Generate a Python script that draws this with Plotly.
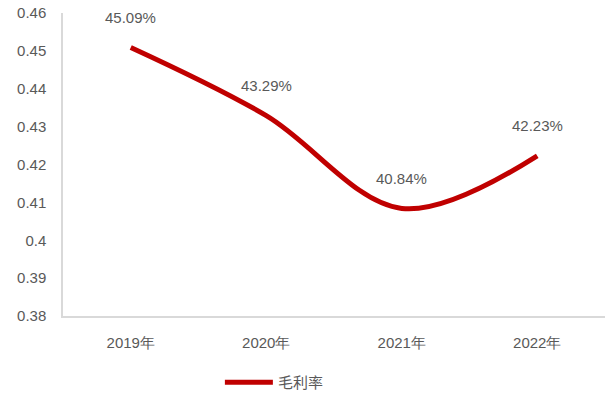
import plotly.graph_objects as go

years = ["2019年", "2020年", "2021年", "2022年"]
gross_margin = [0.4509, 0.4329, 0.4084, 0.4223]
labels = ["45.09%", "43.29%", "40.84%", "42.23%"]
y_ticks = [0.38, 0.39, 0.40, 0.41, 0.42, 0.43, 0.44, 0.45, 0.46]
y_tick_text = ["0.38", "0.39", "0.4", "0.41", "0.42", "0.43", "0.44", "0.45", "0.46"]

fig = go.Figure()
fig.add_trace(go.Scatter(
    x=years, y=gross_margin, mode="lines", name="毛利率",
    line=dict(color="#C00000", width=5, shape="spline", smoothing=1.0),
))

for x, y, t in zip(years, gross_margin, labels):
    fig.add_annotation(x=x, y=y, text=t, showarrow=False, yshift=30,
                       font=dict(family="Liberation Sans, Arial", size=15, color="#595959"))

fig.update_layout(
    width=605, height=399,
    margin=dict(l=63, r=0, t=13, b=83),
    paper_bgcolor="white", plot_bgcolor="white",
    font=dict(family="Liberation Sans, Arial", size=15, color="#595959"),
    xaxis=dict(range=[-0.5, 3.5], showgrid=False, showline=True, linecolor="#D9D9D9", linewidth=1.5,
               ticks="", tickfont=dict(size=15, color="#595959"), ticklabelstandoff=12),
    yaxis=dict(range=[0.38, 0.46], tickvals=y_ticks, ticktext=y_tick_text,
               showgrid=False, showline=True, linecolor="#D9D9D9", linewidth=1.5,
               ticks="", zeroline=False, ticklabelstandoff=12,
               tickfont=dict(size=15, color="#595959")),
    showlegend=True,
    legend=dict(orientation="h", x=0.39, xanchor="center", y=-0.22, yanchor="middle",
                font=dict(family="Noto Sans CJK SC", size=15, color="#595959"),
                itemwidth=48),
)

fig.write_html("out.html")
